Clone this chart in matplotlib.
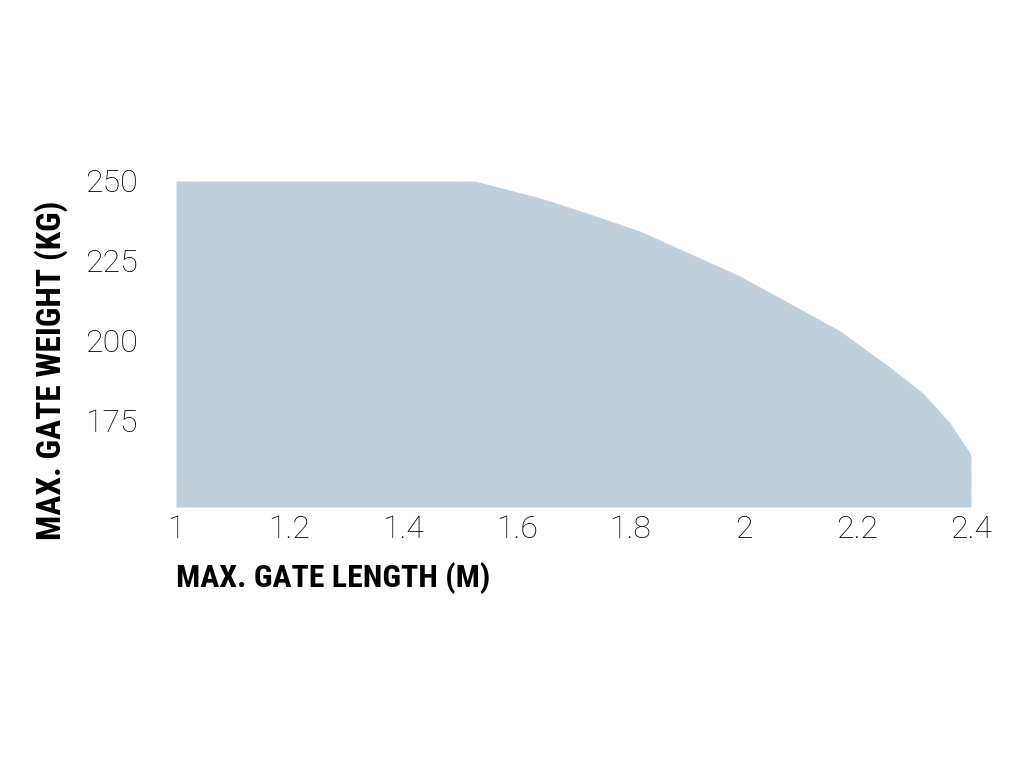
import matplotlib
matplotlib.use("Agg")
import matplotlib.pyplot as plt
from matplotlib import font_manager
from matplotlib.font_manager import FontProperties
from matplotlib.textpath import TextPath

# Data
gate_length = [1.0, 1.526, 1.641, 1.711, 1.817, 1.993, 2.169, 2.257, 2.315, 2.363, 2.398, 2.40]
gate_weight = [250, 250, 244.7, 240.7, 234.3, 220.2, 203.0, 191.6, 183.5, 174.1, 164.7, 163.4]
x_ticks = [1, 1.2, 1.4, 1.6, 1.8, 2, 2.2, 2.4]
x_tick_labels = ["1", "1.2", "1.4", "1.6", "1.8", "2", "2.2", "2.4"]
y_ticks = [175, 200, 225, 250]
y_tick_labels = ["175", "200", "225", "250"]
y_floor = 147.7
x_title = "MAX. GATE LENGTH (M)"
y_title = "MAX. GATE WEIGHT (KG)"

fill_color = "#bfd0da"

names = {f.name for f in font_manager.fontManager.ttflist}
tick_family = ["Roboto", "DejaVu Sans"] if "Roboto" in names else ["DejaVu Sans"]

# choose the narrowest installed bold sans font for the condensed bold titles
allowed = ("DejaVu Sans", "Liberation Sans", "Roboto", "Open Sans", "Lato", "Inter", "Noto Sans")
best = None
for f in font_manager.fontManager.ttflist:
    if not f.name.startswith(allowed):
        continue
    if any(k in f.name for k in ("Mono", "CJK", "Serif", "Display", "Symbols", "Math")):
        continue
    w = f.weight if isinstance(f.weight, int) else {"bold": 700, "heavy": 800, "black": 900}.get(f.weight, 400)
    if w < 700 or "italic" in f.style or "oblique" in f.style:
        continue
    try:
        fp = FontProperties(fname=f.fname)
        tp = TextPath((0, 0), x_title, size=10, prop=fp)
        ext = tp.get_extents()
        ratio = ext.width / max(ext.height, 1e-6)
    except Exception:
        continue
    if best is None or ratio < best[0]:
        best = (ratio, f.fname)
title_prop = FontProperties(fname=best[1]) if best else FontProperties(family="DejaVu Sans", weight="bold")

fig = plt.figure(figsize=(10.24, 7.68), dpi=100)
ax = fig.add_axes([176/1024, 1 - 507/768, 795/1024, 326/768])
ax.fill_between(gate_length, gate_weight, y_floor, color=fill_color, linewidth=0)
ax.set_xlim(1, 2.4)
ax.set_ylim(y_floor, 250)
for s in ax.spines.values():
    s.set_visible(False)
ax.tick_params(length=0)
ax.set_xticks(x_ticks)
ax.set_xticklabels(x_tick_labels, family=tick_family, fontweight="light", fontsize=23, color="#000000")
ax.set_yticks(y_ticks)
ax.set_yticklabels(y_tick_labels, family=tick_family, fontweight="light", fontsize=23, color="#000000", ha="left")
ax.tick_params(axis="x", pad=6)
ax.tick_params(axis="y", pad=65.5)

# size titles so that their width matches the reference (310 px for x title)
tp = TextPath((0, 0), x_title, size=10, prop=title_prop)
w10 = tp.get_extents().width
size_x = min(24, 10 * (310 / (100 / 72)) / w10)
tp2 = TextPath((0, 0), y_title, size=10, prop=title_prop)
w10y = tp2.get_extents().width
size_y = min(24, 10 * (353 / (100 / 72)) / w10y)

fig.text(176/1024, 1 - 578/768, x_title, fontproperties=title_prop,
         fontsize=size_x, ha="left", va="center", color="#000000")
fig.text(51/1024, 1 - 370/768, y_title, fontproperties=title_prop,
         fontsize=size_y, ha="center", va="center", rotation=90, color="#000000")

fig.savefig("out.png", dpi=100)
